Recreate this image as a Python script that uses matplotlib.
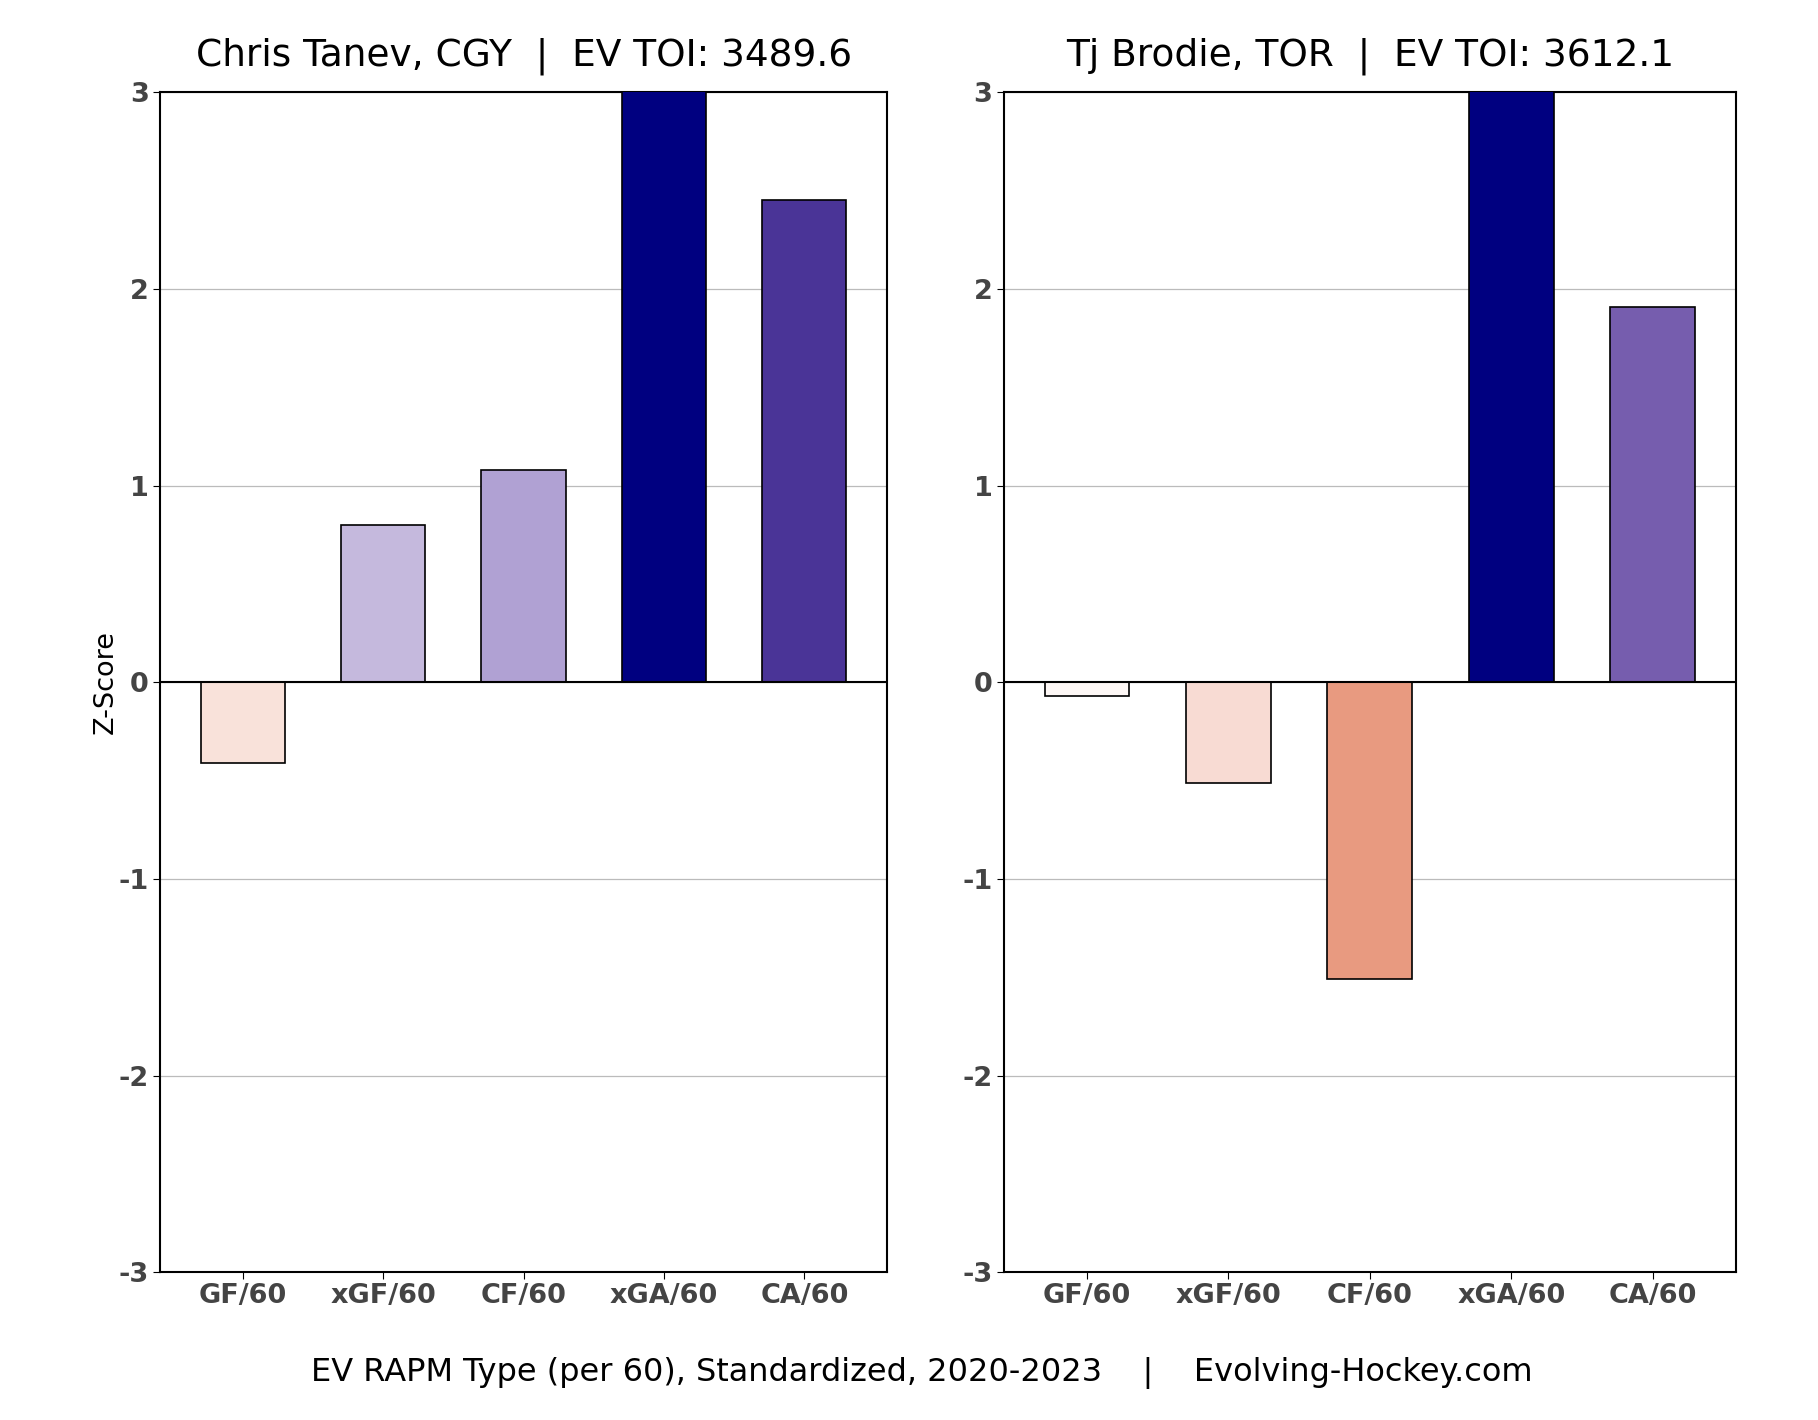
import numpy as np
import matplotlib.pyplot as plt

plt.rcParams["axes.unicode_minus"] = False

# metrics shown on the x axis
metrics = ["GF/60", "xGF/60", "CF/60", "xGA/60", "CA/60"]

# player 1
p1_name = "Chris Tanev, CGY"
p1_toi = 3489.6
p1_z = [-0.41, 0.80, 1.08, 3.30, 2.45]

# player 2
p2_name = "Tj Brodie, TOR"
p2_toi = 3612.1
p2_z = [-0.07, -0.51, -1.51, 3.30, 1.91]

# bar fills (reds for negative, purples for positive)
p1_colors = ["#f9e2da", "#c5b9dd", "#b0a1d3", "#000080", "#4a3497"]
p2_colors = ["#fdf7f5", "#f8dbd3", "#e89a80", "#000080", "#765dae"]


def draw_panel(ax, name, toi, z, colors):
    x = np.arange(len(metrics))
    ax.bar(x, z, width=0.6, color=colors, edgecolor="black", linewidth=1.2, zorder=3)
    ax.axhline(0, color="black", linewidth=1.5, zorder=4)
    ax.set_ylim(-3, 3)
    ax.set_xlim(-0.59, 4.59)
    ax.set_yticks([-3, -2, -1, 0, 1, 2, 3])
    ax.set_xticks(x)
    ax.set_xticklabels(metrics)
    ax.grid(axis="y", color="#bbbbbb", linewidth=0.9, zorder=0)
    ax.tick_params(labelsize=19.5, colors="#444444", length=5, pad=3)
    ax.tick_params(color="black")
    for lab in ax.get_xticklabels() + ax.get_yticklabels():
        lab.set_fontweight("bold")
    for sp in ax.spines.values():
        sp.set_linewidth(1.5)
        sp.set_color("black")
    ax.set_title(f"{name}  |  EV TOI: {toi}", fontsize=27, pad=19)


fig = plt.figure(figsize=(18.18, 14.2), dpi=100)
ax1 = fig.add_axes([0.088, 0.104, 0.400, 0.831])
ax2 = fig.add_axes([0.552, 0.104, 0.403, 0.831])

draw_panel(ax1, p1_name, p1_toi, p1_z, p1_colors)
draw_panel(ax2, p2_name, p2_toi, p2_z, p2_colors)

ax1.set_ylabel("Z-Score", fontsize=19.5, labelpad=0)

fig.text(0.507, 0.033,
         "EV RAPM Type (per 60), Standardized, 2020-2023    |    Evolving-Hockey.com",
         ha="center", va="center", fontsize=23)

fig.savefig("out.png", dpi=100)
